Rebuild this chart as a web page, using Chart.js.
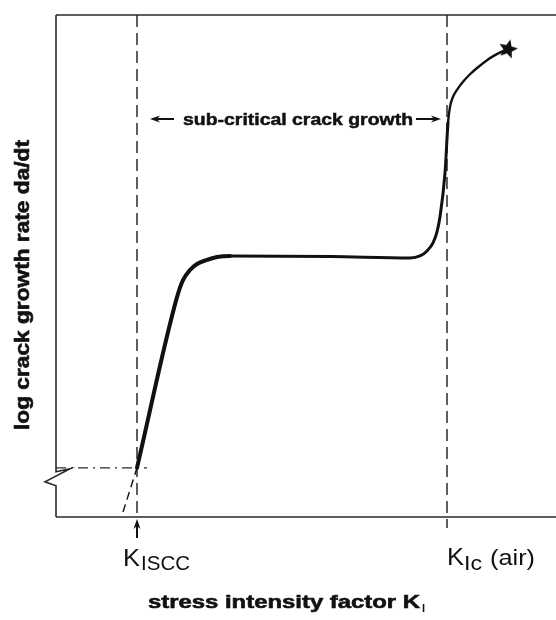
<!DOCTYPE html>
<html>
<head>
<meta charset="utf-8">
<script src="https://cdn.jsdelivr.net/npm/chart.js@4.4.0/dist/chart.umd.min.js"></script>
<style>
  html, body { margin: 0; padding: 0; overflow: hidden; background: #fff; }
  canvas { display: block; }
</style>
</head>
<body>
<canvas id="sccChart" width="556" height="620"></canvas>
<script>
// stress intensity (arbitrary units) and log da/dt (arbitrary units)
const kISCC = 1.62;
const kIc = 7.82;
const thresholdRate = 0.98;

const curveK = [1.62, 2.42, 2.54, 2.68, 2.82, 3.02, 3.22, 3.48, 5.50, 7.08, 7.28, 7.42, 7.54, 7.62,
                7.68, 7.78, 7.84, 7.88, 7.94, 8.02, 8.14, 8.28, 8.44, 8.62, 8.78, 8.94, 9.04];
const curveRate = [0.98, 4.38, 4.72, 4.92, 5.04, 5.12, 5.18, 5.20, 5.19, 5.16, 5.20, 5.30, 5.46, 5.68,
                   5.98, 6.85, 7.85, 8.17, 8.37, 8.51, 8.67, 8.82, 8.96, 9.10, 9.20, 9.28, 9.32];

// dashed extension of the steep branch below K_ISCC
const extrapK = [1.34, 1.62];
const extrapRate = [0.10, 0.98];

// the two vertical markers and the threshold line
const markerTop = 10;
const kIcTickEnd = -0.22;
const thresholdEndK = 1.82;

const yTitle = 'log crack growth rate da/dt';
const xTitle = 'stress intensity factor K';
const xTitleSub = 'I';
const bandLabel = 'sub-critical crack growth';

function pts(xs, ys) {
    return xs.map((x, i) => ({ x: x, y: ys[i] }));
}

// filled five point star for the fracture point
function makeStar(r) {
    const c = document.createElement('canvas');
    c.width = c.height = r * 2 + 2;
    const g = c.getContext('2d');
    g.translate(r + 1, r + 1);
    g.rotate(0.25);
    g.beginPath();
    for (let i = 0; i < 10; i++) {
        const rad = i % 2 === 0 ? r : r * 0.45;
        const a = -Math.PI / 2 + i * Math.PI / 5;
        g.lineTo(rad * Math.cos(a), rad * Math.sin(a));
    }
    g.closePath();
    g.fillStyle = '#111';
    g.fill();
    return c;
}
const star = makeStar(10);

const ink = '#111';
const axisInk = '#2a2a2a';
const FONT = '"Liberation Sans", Arial, Helvetica, sans-serif';

// fillText squeezed/stretched to a given width; heavy adds a thin outline
function text(ctx, str, x, y, font, width, align, heavy) {
    ctx.save();
    ctx.font = font;
    const w = ctx.measureText(str).width;
    const sx = width ? width / w : 1;
    ctx.translate(x, y);
    ctx.scale(sx, 1);
    ctx.textAlign = align || 'left';
    ctx.fillText(str, 0, 0);
    if (heavy) {
        ctx.lineWidth = heavy;
        ctx.strokeStyle = ink;
        ctx.strokeText(str, 0, 0);
    }
    ctx.restore();
}

function arrow(ctx, x1, y1, x2, y2) {
    const a = Math.atan2(y2 - y1, x2 - x1);
    const c = Math.cos(a), s = Math.sin(a);
    ctx.beginPath();
    ctx.moveTo(x1, y1);
    ctx.lineTo(x2 - 6 * c, y2 - 6 * s);
    ctx.stroke();
    ctx.beginPath();
    ctx.moveTo(x2, y2);
    ctx.lineTo(x2 - 10 * c + 3.5 * s, y2 - 10 * s - 3.5 * c);
    ctx.lineTo(x2 - 7 * c, y2 - 7 * s);
    ctx.lineTo(x2 - 10 * c - 3.5 * s, y2 - 10 * s + 3.5 * c);
    ctx.closePath();
    ctx.fill();
}

// frame with broken y axis, labels and arrows
const decorations = {
    id: 'decorations',
    afterDatasetsDraw(chart) {
        const ctx = chart.ctx;
        const a = chart.chartArea;
        const xs = chart.scales.x;
        const ys = chart.scales.y;
        const breakY = ys.getPixelForValue(thresholdRate);

        ctx.save();
        ctx.strokeStyle = axisInk;
        ctx.fillStyle = ink;
        ctx.lineWidth = 1.6;
        ctx.lineJoin = 'miter';

        // top border and x axis run to the right edge
        ctx.beginPath();
        ctx.moveTo(a.left, a.top);
        ctx.lineTo(a.right, a.top);
        ctx.moveTo(a.left, a.bottom);
        ctx.lineTo(a.right, a.bottom);
        ctx.stroke();

        // y axis with the break symbol
        ctx.beginPath();
        ctx.moveTo(a.left, a.top);
        ctx.lineTo(a.left, breakY + 4);
        ctx.lineTo(a.left + 14, breakY + 1);
        ctx.lineTo(a.left - 11, breakY + 14);
        ctx.lineTo(a.left, breakY + 18);
        ctx.lineTo(a.left, a.bottom);
        ctx.stroke();

        // arrow pointing at K_ISCC
        ctx.lineWidth = 2;
        ctx.strokeStyle = ink;
        const kx = xs.getPixelForValue(kISCC);
        arrow(ctx, kx, a.bottom + 21, kx, a.bottom + 2);

        // span arrows around the band label
        const ly = 119;
        arrow(ctx, 174, ly, 150, ly);
        arrow(ctx, 416, ly, 441, ly);
        text(ctx, bandLabel, 183, ly + 6, 'bold 17px ' + FONT, 230, 'left', 0.5);

        // tick labels
        text(ctx, 'K', kx - 14, 566, '24px ' + FONT, 17);
        text(ctx, 'ISCC', kx + 4, 570, '20px ' + FONT, 49);
        const cx = xs.getPixelForValue(kIc);
        text(ctx, 'K', cx, 565, '24px ' + FONT, 17);
        text(ctx, 'Ic', cx + 17, 570, '20px ' + FONT, 18);
        text(ctx, '(air)', cx + 43, 565, '22px ' + FONT, 45);

        // axis titles
        text(ctx, xTitle, 148, 608, 'bold 19px ' + FONT, 272, 'left', 0.6);
        text(ctx, xTitleSub, 422, 612, 'bold 11px ' + FONT);
        ctx.save();
        ctx.translate(29, 285);
        ctx.rotate(-Math.PI / 2);
        text(ctx, yTitle, 0, 0, 'bold 20px ' + FONT, 290, 'center', 0.6);
        ctx.restore();

        ctx.restore();
    }
};

const lastIdx = curveK.length - 1;

new Chart(document.getElementById('sccChart'), {
    type: 'scatter',
    data: {
        datasets: [
            {
                label: 'da/dt',
                data: pts(curveK, curveRate),
                showLine: true,
                borderColor: ink,
                backgroundColor: ink,
                cubicInterpolationMode: 'monotone',
                borderCapStyle: 'round',
                borderJoinStyle: 'round',
                segment: {
                    borderWidth: c => c.p0DataIndex < 7 ? 4 : (c.p0DataIndex < 16 ? 3 : 2.4)
                },
                pointStyle: star,
                pointRadius: c => c.dataIndex === lastIdx ? 10 : 0,
                clip: false
            },
            {
                label: 'extrapolation',
                data: pts(extrapK, extrapRate),
                showLine: true,
                borderColor: ink,
                borderWidth: 1.4,
                borderDash: [8, 5],
                pointRadius: 0,
                clip: false
            },
            {
                label: 'threshold',
                data: pts([0, thresholdEndK], [thresholdRate, thresholdRate]),
                showLine: true,
                borderColor: axisInk,
                borderWidth: 1.3,
                borderDash: [10, 5, 2, 5],
                pointRadius: 0,
                clip: false
            },
            {
                label: 'K_ISCC',
                data: pts([kISCC, kISCC], [markerTop, 0]),
                showLine: true,
                borderColor: axisInk,
                borderWidth: 1.5,
                borderDash: [12, 6],
                pointRadius: 0,
                clip: false
            },
            {
                label: 'K_Ic',
                data: pts([kIc, kIc], [markerTop, kIcTickEnd]),
                showLine: true,
                borderColor: axisInk,
                borderWidth: 1.5,
                borderDash: [12, 6],
                pointRadius: 0,
                clip: false
            }
        ]
    },
    options: {
        responsive: false,
        animation: false,
        layout: {
            autoPadding: false,
            padding: { left: 56, right: 0, top: 15, bottom: 103 }
        },
        plugins: {
            legend: { display: false },
            tooltip: { enabled: false }
        },
        scales: {
            x: { type: 'linear', min: 0, max: 10, display: false },
            y: { type: 'linear', min: 0, max: 10, display: false }
        }
    },
    plugins: [decorations]
});
</script>
</body>
</html>
